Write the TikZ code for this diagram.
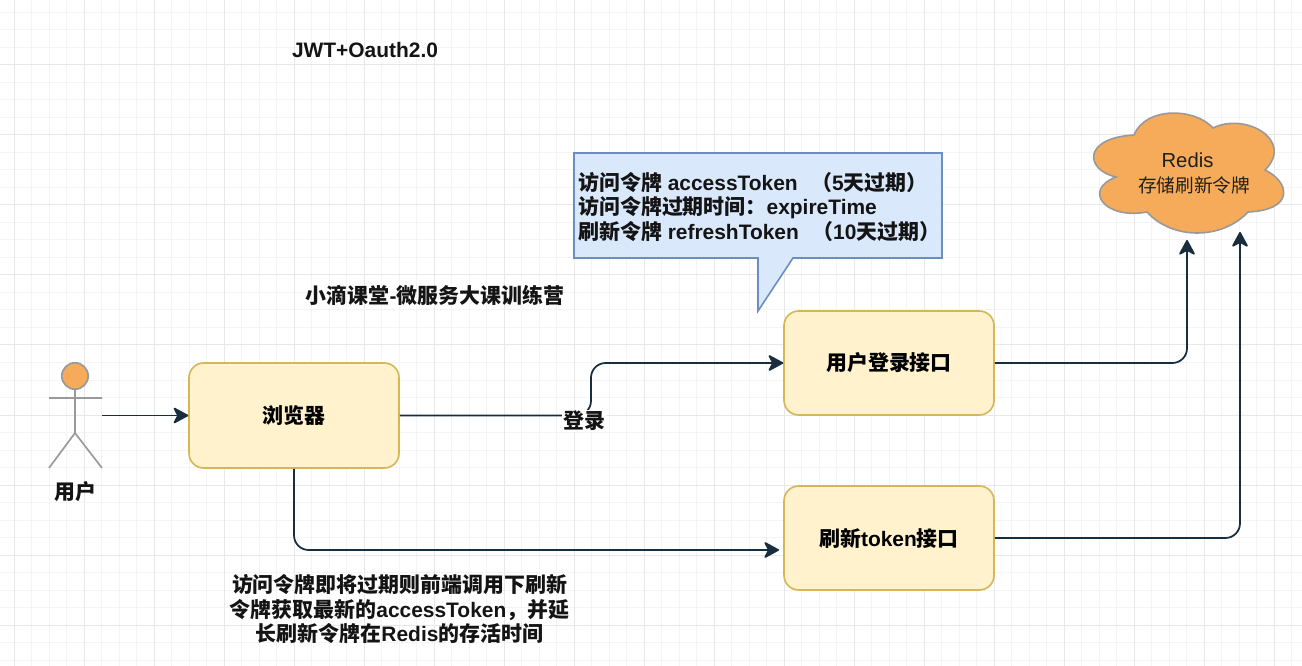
\documentclass[tikz,border=0pt]{standalone}
\usepackage{fontspec}
\setmainfont{Liberation Sans}
\newfontfamily\cjk{Noto Sans CJK SC}
\newcommand{\zh}[1]{{\cjk #1}}
\usetikzlibrary{arrows.meta}
\definecolor{linkc}{HTML}{182E3E}
\definecolor{boxfill}{HTML}{FFF2CC}
\definecolor{boxline}{HTML}{D6B656}
\definecolor{blfill}{HTML}{DAE8FC}
\definecolor{blline}{HTML}{6C8EBF}
\definecolor{orangef}{HTML}{F5AB5A}
\definecolor{greyl}{HTML}{999999}
\definecolor{gridmaj}{HTML}{E8E8E8}
\definecolor{gridmin}{HTML}{F4F4F4}
\tikzset{
  boxnode/.style={draw=boxline,fill=boxfill,line width=1.2pt,rounded corners=11pt,
    minimum width=157.5pt,minimum height=78pt,inner sep=0pt,font=\fontsize{15.7}{18}\selectfont\bfseries},
  conn/.style={draw=linkc,line width=1.3pt,rounded corners=11pt,
    -{Stealth[length=12.5pt,width=13.5pt,inset=3.5pt,round=false]}},
  lbl/.style={inner sep=0pt,font=\fontsize{15.7}{18.4}\selectfont\bfseries,text=black!92},
  actor/.style={draw=greyl,line width=1.25pt},
}
\begin{document}
\begin{tikzpicture}[x=0.75pt,y=-0.75pt]
\useasboundingbox (0,0) rectangle (1302,666);
\fill[white] (0,0) rectangle (1302,666);
% grid
\foreach \i in {0,...,74} {
  \draw[gridmin,line width=0.75pt] ({-3.5+17.5*\i},0) -- ({-3.5+17.5*\i},666);
}
\foreach \i in {0,...,38} {
  \draw[gridmin,line width=0.75pt] (0,{12.5+17.5*\i}) -- (1302,{12.5+17.5*\i});
}
\foreach \i in {0,...,18} {
  \draw[gridmaj,line width=0.75pt] ({14+70*\i},0) -- ({14+70*\i},666);
}
\foreach \i in {0,...,9} {
  \draw[gridmaj,line width=0.75pt] (0,{-5+70*\i}) -- (1302,{-5+70*\i});
}
% callout
\draw[blline,fill=blfill,line width=1.2pt,line join=miter]
  (574,153) -- (942,153) -- (942,258) -- (793,258) -- (758,311) -- (758,258) -- (574,258) -- cycle;
\node[lbl,anchor=west,align=left] (calltext) at (578,207)
  {\zh{访问令牌} accessToken\hspace{10pt}\zh{（}5\zh{天过期）}\\
   \zh{访问令牌过期时间：}expireTime\\
   \zh{刷新令牌} refreshToken\hspace{10pt}\zh{（}10\zh{天过期）}};
% cloud
\draw[greyl,fill=orangef,line width=1.2pt]
  (1134,135) .. controls (1146,106) and (1195,108) .. (1213,128)
  .. controls (1245,112) and (1295,140) .. (1265,170)
  .. controls (1290,182) and (1295,210) .. (1248,212)
  .. controls (1222,240) and (1172,240) .. (1147,212)
  .. controls (1105,220) and (1082,190) .. (1116,177)
  .. controls (1085,170) and (1082,138) .. (1134,135) -- cycle;
\node[inner sep=0pt,font=\fontsize{15.2}{17.5}\selectfont,text=black!88] (redis) at (1187.5,160) {Redis};
\node[inner sep=0pt,font=\fontsize{14}{17.5}\selectfont,text=black!88] (redisnote) at (1194,185) {\zh{存储刷新令牌}};
\coordinate (redisa) at (1187,240);
\coordinate (redisb) at (1240,232);
% actor
\draw[actor,fill=orangef] (75,376) circle (13.2);
\coordinate (actorport) at (102,415.5);
\draw[actor] (75,389.2) -- (75,433) (49,398) -- (102,398) (49,468) -- (75,433) -- (102,468);
\node[lbl] (user) at (75.5,492) {\zh{用户}};
% boxes
\node[boxnode,minimum height=78.75pt] (browser) at (294,415.5) {\raisebox{-0.8pt}{\zh{浏览器}}};
\node[boxnode] (login) at (889,363) {\raisebox{-0.8pt}{\zh{用户登录接口}}};
\node[boxnode] (refresh) at (889,538) {\raisebox{-1.5pt}{\zh{刷新}token\zh{接口}}};
% title texts
\node[lbl] (title) at (365,50) {JWT+Oauth2.0};
\node[lbl] (camp) at (435,295) {\zh{小滴课堂}-\zh{微服务大课训练营}};
\node[lbl,align=center] (note) at (399.5,609)
  {\zh{访问令牌即将过期则前端调用下刷新}\\
   \zh{令牌获取最新的}accessToken\zh{，并延}\\
   \zh{长刷新令牌在}Redis\zh{的存活时间}};
% connectors
\draw[conn] (actorport) -- (browser.west);
\draw[conn] (browser.east) -- (591,415.5) -- (591,363) -- (login.west);
\node[lbl,fill=white,inner sep=1pt] (loginlbl) at (584,421) {\zh{登录}};
\coordinate (refreshin) at (779,550);
\draw[conn] (browser.south) -- (294,550) -- (refreshin);
\draw[conn] (login.east) -- (1187,363) -- (redisa);
\draw[conn] (refresh.east) -- (1240,538) -- (redisb);
\end{tikzpicture}
\end{document}
